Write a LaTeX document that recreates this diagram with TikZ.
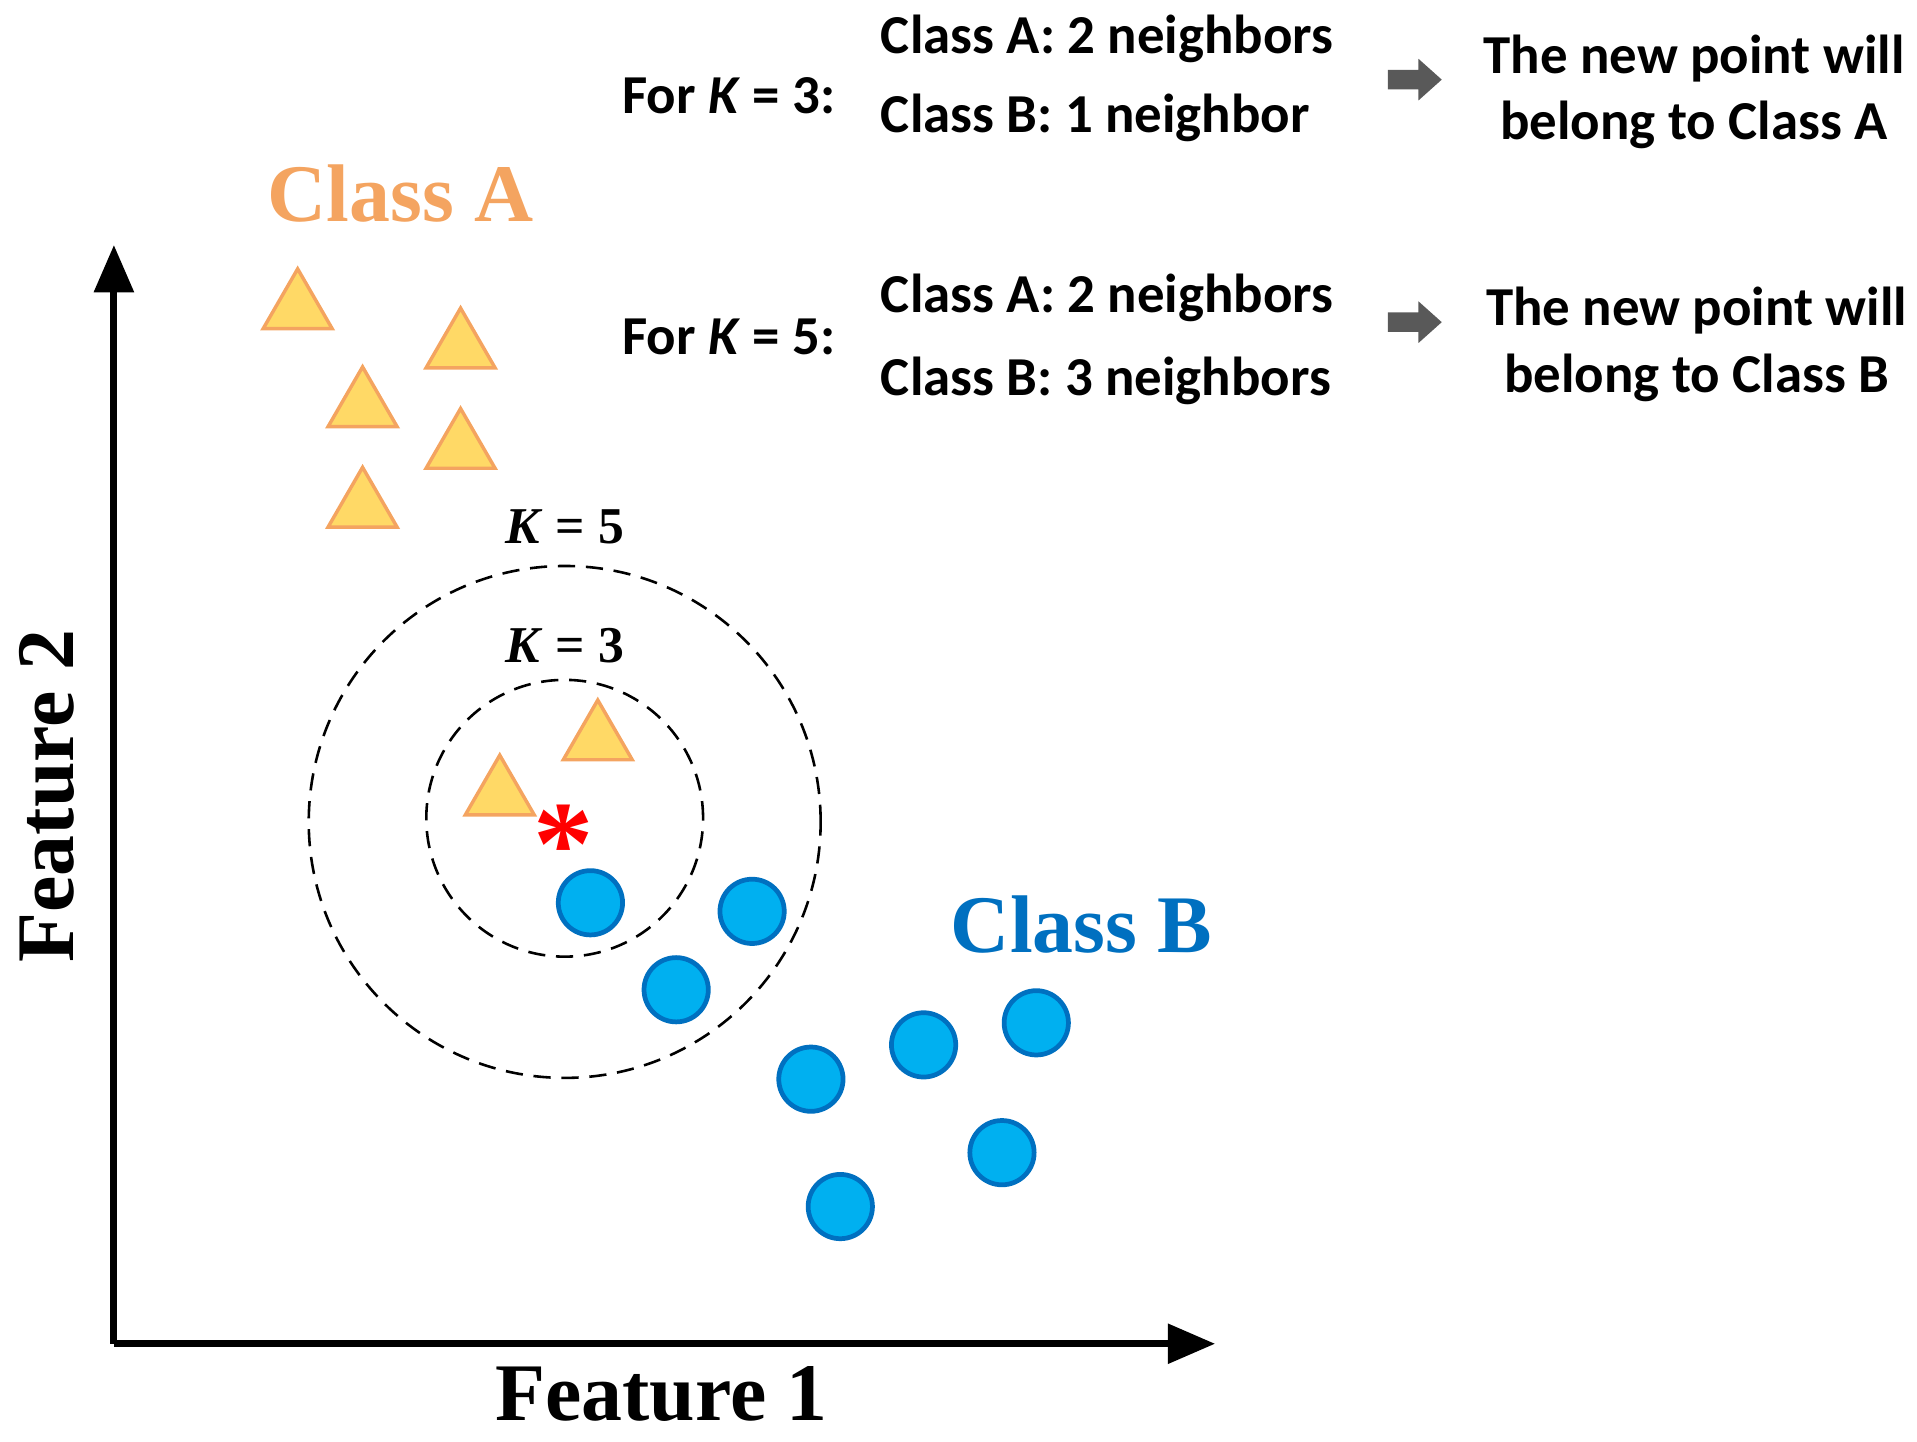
\documentclass[tikz,border=0pt]{standalone}
\usepackage{fontspec}
\setmainfont{Liberation Serif}
\newfontfamily\calfont{Carlito}
\usetikzlibrary{arrows.meta,shapes.geometric}
\definecolor{triF}{HTML}{FFD966}
\definecolor{triE}{HTML}{F4A460}
\definecolor{cA}{HTML}{F4A460}
\definecolor{cirF}{HTML}{00B0F0}
\definecolor{cirE}{HTML}{0070C0}
\begin{document}
\begin{tikzpicture}[x=0.02cm,y=-0.02cm,
  tri/.style={regular polygon,regular polygon sides=3,draw=triE,fill=triF,line width=1.6pt,minimum size=1.3cm,inner sep=0pt},
  pt/.style={circle,draw=cirE,fill=cirF,line width=2.2pt,minimum size=1.05cm,inner sep=0pt},
  lab/.style={font=\calfont\bfseries\fontsize{25.5}{31}\selectfont},
  ring/.style={draw,line width=1.2pt,dash pattern=on 8pt off 5pt},
  garrow/.style={fill=black!65}]
\useasboundingbox (0,0) rectangle (1565,1177);
% axes
\coordinate (O) at (93,1097);
\coordinate (Y) at (93,200);
\coordinate (X) at (992,1097);
\draw[line width=3.2pt,-{Triangle[length=22pt,width=18pt]}] (O) -- (Y);
\draw[line width=3.2pt,-{Triangle[length=22pt,width=18pt]}] (O) -- (X);
\node[rotate=90,font=\bfseries\fontsize{38}{42}\selectfont] (f2) at (38,650) {Feature 2};
\node[font=\bfseries\fontsize{38}{42}\selectfont] (f1) at (540,1138) {Feature 1};
\node[text=cA,font=\bfseries\fontsize{38}{42}\selectfont] (ca) at (327,158) {Class A};
\node[text=cirE,font=\bfseries\fontsize{38}{42}\selectfont] (cb) at (883,755) {Class B};
% rings
\node[ring,circle,minimum size=8.36cm,inner sep=0pt] (r5) at (461,671) {};
\node[ring,circle,minimum size=4.52cm,inner sep=0pt] (r3) at (461,668) {};
\node[font=\bfseries\fontsize{24}{28}\selectfont] (k5) at (461,430) {\textit{K} = 5};
\node[font=\bfseries\fontsize{24}{28}\selectfont] (k3) at (461,527) {\textit{K} = 3};
% triangles
\foreach \n/\x/\y in {t1/243/252,t2/376/284,t3/296/332,t4/376/366,t5/296/414,t6/488/604,t7/408/649}
  \node[tri] (\n) at (\x,\y) {};
% circles
\foreach \n/\x/\y in {c1/482/737,c2/614/744,c3/552/808,c4/662/881,c5/754/853,c6/846/835,c7/818/941,c8/686/985}
  \node[pt] (\n) at (\x,\y) {};
\node[text=red,font=\bfseries\fontsize{56}{56}\selectfont] (star) at (460,690) {*};
% top text
\node[lab] (fk3) at (595,78) {For \textit{K} = 3:};
\node[lab,anchor=west] (a3) at (713,32) {Class A: 2 neighbors};
\node[lab,anchor=west] (b3) at (713,96) {Class B: 1 neighbor};
\node[lab,align=center] (r3t) at (1383,75) {The new point will\\belong to Class A};
\node[lab] (fk5) at (595,275) {For \textit{K} = 5:};
\node[lab,anchor=west] (a5) at (713,243) {Class A: 2 neighbors};
\node[lab,anchor=west] (b5) at (713,311) {Class B: 3 neighbors};
\node[lab,align=center] (r5t) at (1385,281) {The new point will\\belong to Class B};
\foreach \yy in {65,263}
  \fill[garrow] (1133,\yy-8) -- (1158,\yy-8) -- (1158,\yy-17) -- (1177,\yy) -- (1158,\yy+17) -- (1158,\yy+8) -- (1133,\yy+8) -- cycle;
\end{tikzpicture}
\end{document}
